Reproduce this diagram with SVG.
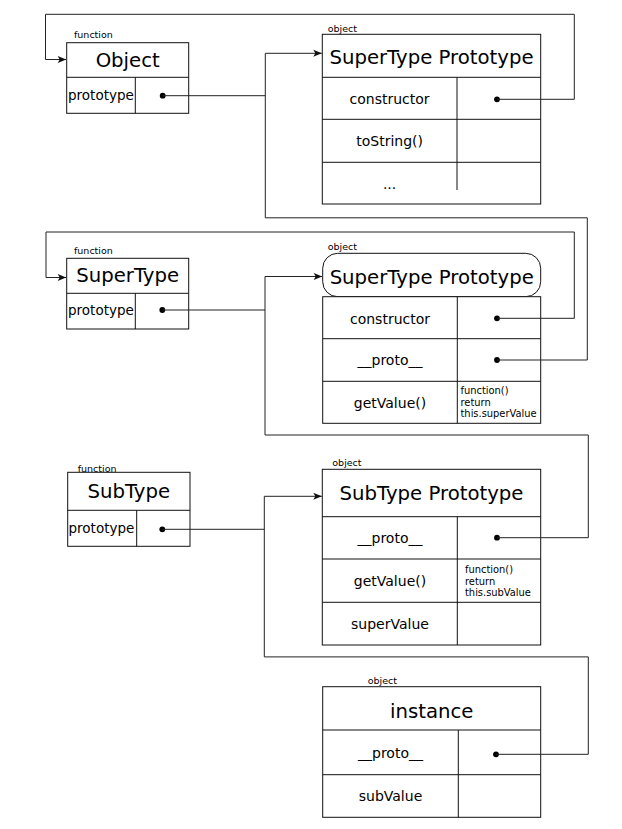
<svg xmlns="http://www.w3.org/2000/svg" width="622" height="829" viewBox="0 0 622 829">
<defs>
<style>
text{font-family:"DejaVu Sans","Liberation Sans",sans-serif;fill:#000}
.box{fill:#fff;stroke:#111;stroke-width:1}
.ln{fill:none;stroke:#111;stroke-width:1}
.tag{font-size:9.5px}
.hd{font-size:19.7px;text-anchor:middle}
.row{font-size:14px;text-anchor:middle}
.pr{font-size:13.5px}
.fn{font-size:9.9px}
.dot{fill:#000}
.wire{fill:none;stroke:#222;stroke-width:1}
</style>
<marker id="arr" viewBox="-9 -4 10 8" refX="0" refY="0" markerWidth="10" markerHeight="8" markerUnits="userSpaceOnUse" orient="auto">
<path d="M0,0 L-8.5,-3.5 L-6.5,0 L-8.5,3.5 Z" fill="#111"/>
</marker>
</defs>
<rect width="622" height="829" fill="#fff"/>

<g id="node-object">
<text class="tag" x="74" y="38">function</text>
<rect class="box" x="66.7" y="42.7" width="122" height="70.6"/>
<path class="ln" d="M66.7,77.3 H188.7 M135.3,77.3 V113.3"/>
<text class="hd" x="127.7" y="66.5">Object</text>
<text class="pr" x="68" y="100">prototype</text>
<circle class="dot" cx="162.7" cy="95.7" r="2.9"/>
</g>

<g id="node-supertype-prototype-top">
<text class="tag" x="327.7" y="31.7">object</text>
<rect class="box" x="322.3" y="34.3" width="218.4" height="169.7"/>
<path class="ln" d="M322.3,77.3 H540.7 M322.3,119.3 H540.7 M322.3,162.3 H540.7 M457,77.3 V190"/>
<text class="hd" x="431.5" y="64">SuperType Prototype</text>
<text class="row" x="389.6" y="104">constructor</text>
<text class="row" x="389.6" y="146">toString()</text>
<text class="row" x="389.6" y="189">...</text>
<circle class="dot" cx="497" cy="99.3" r="2.9"/>
</g>

<g id="node-supertype">
<text class="tag" x="74" y="254">function</text>
<rect class="box" x="66.7" y="258.3" width="122" height="70.7"/>
<path class="ln" d="M66.7,293.3 H188.7 M135.3,293.3 V329"/>
<text class="hd" x="127.7" y="282">SuperType</text>
<text class="pr" x="68" y="314.5">prototype</text>
<circle class="dot" cx="162.3" cy="310" r="2.9"/>
</g>

<g id="node-supertype-prototype">
<text class="tag" x="327.7" y="250">object</text>
<rect class="box" x="322.7" y="253.3" width="218" height="43.4" rx="15" ry="15"/>
<rect class="box" x="322.7" y="296.7" width="218" height="126.6"/>
<path class="ln" d="M322.7,338.7 H540.7 M322.7,381.3 H540.7 M457.3,296.7 V423.3"/>
<text class="hd" x="431.7" y="283.5">SuperType Prototype</text>
<text class="row" x="390" y="323.5">constructor</text>
<text class="row" x="390" y="365">__proto__</text>
<text class="row" x="390" y="408">getValue()</text>
<circle class="dot" cx="497" cy="318.3" r="2.9"/>
<circle class="dot" cx="497" cy="360" r="2.9"/>
<text class="fn" x="460.5" y="394">function()</text>
<text class="fn" x="460.5" y="405.5">return</text>
<text class="fn" x="460.5" y="417.3">this.superValue</text>
</g>

<g id="node-subtype">
<text class="tag" x="77.7" y="471.5">function</text>
<rect class="box" x="67.7" y="472.3" width="122.3" height="74"/>
<path class="ln" d="M67.7,510.3 H190 M136.7,510.3 V546.3"/>
<text class="hd" x="128.8" y="497.5">SubType</text>
<text class="pr" x="68.5" y="532.5">prototype</text>
<circle class="dot" cx="162.3" cy="529.3" r="2.9"/>
</g>

<g id="node-subtype-prototype">
<text class="tag" x="332.3" y="466">object</text>
<rect class="box" x="322.3" y="469.3" width="218.4" height="175.7"/>
<path class="ln" d="M322.3,516.7 H540.7 M322.3,559 H540.7 M322.3,602.3 H540.7 M457.3,516.7 V645"/>
<text class="hd" x="431.5" y="500">SubType Prototype</text>
<text class="row" x="390" y="543">__proto__</text>
<text class="row" x="390" y="586">getValue()</text>
<text class="row" x="390" y="629">superValue</text>
<circle class="dot" cx="497" cy="537.7" r="2.9"/>
<text class="fn" x="465" y="573">function()</text>
<text class="fn" x="465" y="584.7">return</text>
<text class="fn" x="465" y="596.3">this.subValue</text>
</g>

<g id="node-instance">
<text class="tag" x="367.7" y="684">object</text>
<rect class="box" x="322.7" y="686.7" width="218" height="130.6"/>
<path class="ln" d="M322.7,730 H540.7 M322.7,774.7 H540.7 M458.3,730 V817.3"/>
<text class="hd" x="431.7" y="717.5">instance</text>
<text class="row" x="390.5" y="757.5">__proto__</text>
<text class="row" x="390.5" y="801">subValue</text>
<circle class="dot" cx="496" cy="754.3" r="2.9"/>
</g>

<g id="connectors">
<path class="wire" d="M497,99.3 H574.3 V14.3 H45.5 V59.5 H66.2" marker-end="url(#arr)"/>
<path class="wire" d="M162.7,95.7 H265.3"/>
<path class="wire" d="M497,360 H587.3 V217.8 H265.3 V53.3 H321.8" marker-end="url(#arr)"/>
<path class="wire" d="M497,318.3 H574.3 V232 H46 V277.5 H66.2" marker-end="url(#arr)"/>
<path class="wire" d="M162.3,310 H265"/>
<path class="wire" d="M497,537.7 H588.3 V435 H265 V276.5 H322.2" marker-end="url(#arr)"/>
<path class="wire" d="M162.3,529.3 H264.3"/>
<path class="wire" d="M496,754.3 H588.3 V656.9 H264.3 V496.3 H321.8" marker-end="url(#arr)"/>
</g>
</svg>
